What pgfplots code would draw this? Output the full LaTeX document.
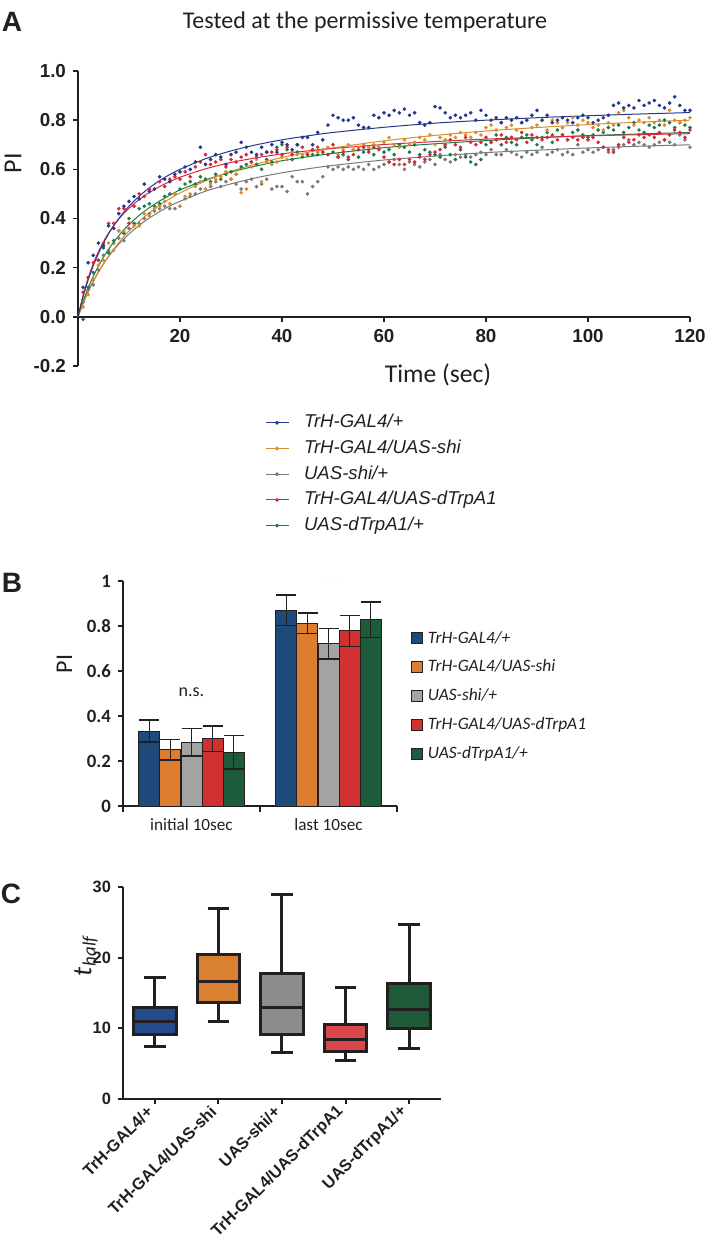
\documentclass[border=0pt]{standalone}
\usepackage{pgfplots}
\pgfplotsset{compat=1.18}
\usepackage{pgfplotstable}
\usepgfplotslibrary{statistics}
\usepackage{fontspec}
\setmainfont{Carlito}
\newfontfamily\arial{Liberation Sans}
\newfontfamily\carlito{Carlito}

\definecolor{blueA}{HTML}{233A8B}
\definecolor{orangeA}{HTML}{D98E2E}
\definecolor{grayA}{HTML}{7A7A7A}
\definecolor{redA}{HTML}{D42A3C}
\definecolor{greenA}{HTML}{1F7A48}
\definecolor{blueB}{HTML}{1F4A7C}
\definecolor{orangeB}{HTML}{DE7C30}
\definecolor{grayB}{HTML}{A3A3A3}
\definecolor{redB}{HTML}{D03232}
\definecolor{greenB}{HTML}{1D5C3A}
\definecolor{blueC}{HTML}{234B8C}
\definecolor{orangeC}{HTML}{DA8032}
\definecolor{grayC}{HTML}{8C8C8C}
\definecolor{redC}{HTML}{D9464B}
\definecolor{greenC}{HTML}{1E5A37}
\definecolor{ink}{HTML}{231F20}

\pgfplotsset{sqlegend/.style={legend image code/.code={\draw[##1] (0pt,-2.75pt) rectangle (5.5pt,2.75pt);}}}

\pgfplotstableread{
t b o g r e
1 0.12 0.04 0.06 0.10 -0.01
2 0.22 0.09 0.11 0.16 0.12
3 0.25 0.15 0.13 0.22 0.18
4 0.30 0.21 0.19 0.23 0.23
5 0.29 0.23 0.25 0.30 0.28
6 0.37 0.30 0.27 0.38 0.26
7 0.36 0.27 0.30 0.38 0.31
8 0.42 0.35 0.32 0.44 0.35
9 0.45 0.35 0.31 0.44 0.34
10 0.47 0.38 0.36 0.38 0.40
11 0.49 0.37 0.38 0.45 0.38
12 0.48 0.37 0.38 0.50 0.44
13 0.54 0.42 0.40 0.49 0.45
14 0.51 0.41 0.42 0.52 0.46
15 0.52 0.44 0.43 0.52 0.45
16 0.57 0.45 0.44 0.55 0.46
17 0.56 0.47 0.45 0.53 0.49
18 0.55 0.46 0.44 0.56 0.50
19 0.58 0.50 0.44 0.57 0.50
20 0.59 0.45 0.45 0.56 0.52
21 0.61 0.49 0.48 0.59 0.54
22 0.60 0.50 0.49 0.57 0.55
23 0.63 0.53 0.50 0.61 0.54
24 0.69 0.55 0.52 0.63 0.57
25 0.62 0.52 0.52 0.66 0.56
26 0.64 0.54 0.53 0.62 0.55
27 0.66 0.56 0.55 0.63 0.58
28 0.65 0.57 0.53 0.64 0.56
29 0.62 0.59 0.55 0.61 0.58
30 0.66 0.56 0.56 0.64 0.59
31 0.67 0.58 0.54 0.63 0.58
32 0.71 0.505 0.52 0.65 0.61
33 0.69 0.52 0.55 0.66 0.62
34 0.67 0.61 0.56 0.63 0.63
35 0.66 0.64 0.53 0.65 0.62
36 0.69 0.55 0.54 0.66 0.60
37 0.67 0.63 0.56 0.67 0.64
38 0.70 0.62 0.52 0.67 0.63
39 0.67 0.63 0.53 0.68 0.69
40 0.71 0.65 0.53 0.66 0.70
41 0.70 0.64 0.51 0.69 0.68
42 0.68 0.67 0.57 0.66 0.64
43 0.70 0.66 0.55 0.70 0.67
44 0.73 0.66 0.55 0.69 0.65
45 0.73 0.66 0.50 0.66 0.66
46 0.70 0.68 0.53 0.68 0.66
47 0.75 0.67 0.55 0.69 0.66
48 0.72 0.68 0.57 0.67 0.67
49 0.78 0.69 0.61 0.66 0.66
50 0.82 0.70 0.60 0.70 0.67
51 0.81 0.66 0.61 0.65 0.65
52 0.80 0.68 0.60 0.67 0.66
53 0.80 0.70 0.61 0.65 0.64
54 0.81 0.68 0.60 0.66 0.68
55 0.78 0.69 0.61 0.68 0.65
56 0.77 0.70 0.60 0.69 0.67
57 0.77 0.69 0.62 0.67 0.68
58 0.82 0.70 0.60 0.69 0.66
59 0.81 0.69 0.61 0.68 0.69
60 0.83 0.71 0.62 0.65 0.67
61 0.82 0.73 0.63 0.63 0.68
62 0.84 0.70 0.64 0.62 0.66
63 0.83 0.69 0.62 0.64 0.70
64 0.845 0.72 0.60 0.62 0.69
65 0.82 0.70 0.63 0.64 0.67
66 0.83 0.71 0.62 0.63 0.70
67 0.79 0.73 0.61 0.65 0.66
68 0.78 0.72 0.63 0.64 0.68
69 0.79 0.74 0.64 0.66 0.67
70 0.855 0.70 0.62 0.67 0.66
71 0.85 0.73 0.66 0.68 0.65
72 0.83 0.72 0.64 0.70 0.69
73 0.81 0.74 0.63 0.72 0.66
74 0.82 0.73 0.66 0.70 0.64
75 0.81 0.75 0.65 0.69 0.68
76 0.82 0.74 0.66 0.73 0.65
77 0.83 0.73 0.65 0.71 0.63
78 0.80 0.75 0.66 0.70 0.62
79 0.84 0.74 0.67 0.71 0.64
80 0.82 0.77 0.66 0.73 0.70
81 0.80 0.78 0.68 0.71 0.71
82 0.81 0.76 0.66 0.72 0.74
83 0.79 0.79 0.66 0.74 0.70
84 0.81 0.77 0.68 0.71 0.73
85 0.80 0.78 0.67 0.73 0.71
86 0.81 0.76 0.66 0.72 0.70
87 0.79 0.79 0.65 0.75 0.73
88 0.80 0.80 0.67 0.71 0.74
89 0.82 0.77 0.66 0.74 0.72
90 0.84 0.78 0.67 0.73 0.70
91 0.80 0.80 0.69 0.72 0.73
92 0.82 0.76 0.66 0.73 0.75
93 0.79 0.80 0.67 0.74 0.71
94 0.80 0.79 0.68 0.72 0.76
95 0.81 0.77 0.66 0.74 0.74
96 0.80 0.79 0.67 0.72 0.72
97 0.79 0.81 0.66 0.73 0.75
98 0.81 0.78 0.70 0.72 0.76
99 0.82 0.80 0.67 0.73 0.74
100 0.81 0.79 0.68 0.72 0.73
101 0.79 0.77 0.67 0.73 0.74
102 0.80 0.78 0.68 0.71 0.76
103 0.81 0.76 0.69 0.69 0.75
104 0.82 0.79 0.67 0.68 0.77
105 0.86 0.78 0.68 0.67 0.76
106 0.87 0.83 0.69 0.70 0.78
107 0.85 0.84 0.70 0.73 0.75
108 0.86 0.81 0.72 0.71 0.77
109 0.85 0.78 0.70 0.72 0.79
110 0.88 0.80 0.71 0.74 0.76
111 0.86 0.79 0.70 0.73 0.75
112 0.87 0.81 0.69 0.74 0.78
113 0.88 0.79 0.70 0.73 0.77
114 0.86 0.80 0.71 0.75 0.78
115 0.85 0.78 0.72 0.72 0.80
116 0.87 0.84 0.71 0.74 0.79
117 0.895 0.80 0.70 0.76 0.77
118 0.86 0.79 0.74 0.75 0.79
119 0.84 0.80 0.72 0.73 0.78
120 0.84 0.81 0.69 0.76 0.77
}\dataA

\begin{document}
\begin{tikzpicture}
\useasboundingbox (0,0) rectangle (354pt,-619.5pt);

% ---------- Panel labels and title ----------
\node[font=\arial\bfseries\fontsize{14}{16}\selectfont, text=ink] at (6pt,-11pt) {A};
\node[font=\arial\bfseries\fontsize{14}{16}\selectfont, text=ink] at (6pt,-291.5pt) {B};
\node[font=\arial\bfseries\fontsize{14}{16}\selectfont, text=ink] at (5.5pt,-447pt) {C};
\node[font=\carlito\fontsize{12}{14}\selectfont, text=ink, anchor=base] at (182.5pt,-14pt) {Tested at the permissive temperature};
\node[font=\carlito\fontsize{13}{15}\selectfont, text=ink, rotate=90] at (6.5pt,-81.5pt) {PI};
\node[font=\carlito\fontsize{12.8}{15}\selectfont, text=ink] at (219pt,-187.5pt) {Time (sec)};
\node[font=\carlito\fontsize{12}{14}\selectfont, text=ink, rotate=90] at (32.25pt,-332pt) {PI};
\node[font=\carlito\itshape\fontsize{13.5}{15}\selectfont, text=ink, rotate=90] at (43pt,-478pt) {t\kern0.5pt\textsubscript{half}};

% ---------- Panel A ----------
\begin{axis}[
  at={(39pt,-183pt)}, anchor=south west, scale only axis,
  width=306pt, height=147.5pt,
  xmin=0, xmax=120, ymin=-0.2, ymax=1.0,
  axis x line=middle, axis y line=left,
  axis line style={-, line width=0.75pt, ink},
  every inner x axis line/.append style={-},
  xtick={20,40,60,80,100,120},
  ytick={-0.2,0,0.2,0.4,0.6,0.8,1.0},
  yticklabels={-0.2,0.0,0.2,0.4,0.6,0.8,1.0},
  tick align=outside, major tick length=2.5pt,
  tick style={line width=0.75pt, ink},
  tick label style={font=\arial\bfseries\fontsize{9.4}{11}\selectfont, text=ink},
  /pgf/number format/assume math mode=true,
  legend image code/.code={\draw[mark repeat=2,mark phase=2,#1] plot coordinates {(0pt,0pt) (5.75pt,0pt) (11.5pt,0pt)};},
  legend style={at={(axis description cs:0.3056,-0.162)}, anchor=north west,
    draw=none, fill=none, inner sep=0pt, outer sep=0pt,
    font=\arial\itshape\fontsize{9.3}{11}\selectfont, text=ink,
    row sep=3.85pt,
    nodes={inner sep=0pt, text height=7pt, text depth=2pt},
    /tikz/every odd column/.append style={column sep=7.5pt}},
  legend cell align=left,
]
\addlegendimage{blueA, line width=0.5pt, mark=*, mark size=0.7pt}
\addlegendentry{TrH-GAL4/+}
\addlegendimage{orangeA, line width=0.5pt, mark=*, mark size=0.7pt}
\addlegendentry{TrH-GAL4/UAS-shi}
\addlegendimage{grayA, line width=0.5pt, mark=*, mark size=0.7pt}
\addlegendentry{UAS-shi/+}
\addlegendimage{redA, line width=0.5pt, mark=*, mark size=0.7pt}
\addlegendentry{TrH-GAL4/UAS-dTrpA1}
\addlegendimage{greenA, line width=0.5pt, mark=*, mark size=0.7pt}
\addlegendentry{UAS-dTrpA1/+}

\addplot[forget plot, only marks, mark=*, mark size=0.7pt, grayA] table[x=t, y=g] {\dataA};
\addplot[forget plot, only marks, mark=*, mark size=0.7pt, greenA] table[x=t, y=e] {\dataA};
\addplot[forget plot, only marks, mark=*, mark size=0.7pt, orangeA] table[x=t, y=o] {\dataA};
\addplot[forget plot, only marks, mark=*, mark size=0.7pt, redA] table[x=t, y=r] {\dataA};
\addplot[forget plot, only marks, mark=*, mark size=0.7pt, blueA] table[x=t, y=b] {\dataA};

\addplot[forget plot, smooth, grayA, line width=0.5pt] coordinates {(0,0) (1,.055) (2,.103) (3,.146) (4,.183) (5,.216) (6,.245) (7,.272) (8,.296) (9,.317) (10,.337) (12,.372) (14,.402) (16,.428) (18,.451) (20,.47) (25,.511) (30,.541) (35,.566) (40,.586) (45,.602) (50,.616) (60,.638) (70,.654) (80,.668) (90,.678) (100,.687) (110,.694) (120,.70)};
\addplot[forget plot, smooth, greenA, line width=0.5pt] coordinates {(0,0) (1,.063) (2,.118) (3,.165) (4,.206) (5,.243) (6,.275) (7,.304) (8,.33) (9,.354) (10,.375) (12,.413) (14,.444) (16,.471) (18,.495) (20,.516) (25,.557) (30,.589) (35,.614) (40,.635) (45,.651) (50,.665) (60,.688) (70,.704) (80,.717) (90,.728) (100,.737) (110,.744) (120,.75)};
\addplot[forget plot, smooth, orangeA, line width=0.5pt] coordinates {(0,0) (1,.053) (2,.101) (3,.143) (4,.181) (5,.216) (6,.247) (7,.276) (8,.302) (9,.327) (10,.349) (12,.389) (14,.423) (16,.454) (18,.48) (20,.504) (25,.553) (30,.592) (35,.622) (40,.648) (45,.669) (50,.687) (60,.716) (70,.738) (80,.756) (90,.77) (100,.782) (110,.792) (120,.80)};
\addplot[forget plot, smooth, redA, line width=0.5pt] coordinates {(0,0) (1,.088) (2,.159) (3,.217) (4,.265) (5,.306) (6,.341) (7,.371) (8,.398) (9,.421) (10,.442) (12,.477) (14,.506) (16,.53) (18,.55) (20,.568) (25,.602) (30,.628) (35,.647) (40,.663) (45,.675) (50,.685) (60,.701) (70,.713) (80,.723) (90,.73) (100,.736) (110,.741) (120,.745)};
\addplot[forget plot, smooth, blueA, line width=0.5pt] coordinates {(0,0) (1,.082) (2,.15) (3,.208) (4,.257) (5,.30) (6,.338) (7,.371) (8,.40) (9,.426) (10,.45) (12,.491) (14,.525) (16,.554) (18,.579) (20,.60) (25,.643) (30,.675) (35,.70) (40,.72) (45,.736) (50,.75) (60,.771) (70,.788) (80,.80) (90,.81) (100,.818) (110,.825) (120,.831)};
\end{axis}

% ---------- Panel B ----------
\begin{axis}[
  at={(61.5pt,-403pt)}, anchor=south west, scale only axis,
  width=137pt, height=112.5pt,
  xmin=-0.5, xmax=1.5, ymin=0, ymax=1,
  axis lines=left, axis line style={-, line width=1pt, ink},
  xtick={0,1}, xticklabels={initial 10sec, last 10sec},
  minor xtick={-0.5,0.5,1.5},
  major x tick style={draw=none},
  ytick={0,0.2,0.4,0.6,0.8,1}, yticklabels={0,0.2,0.4,0.6,0.8,1},
  tick align=outside, major tick length=2.5pt, minor tick length=3pt,
  tick style={line width=1pt, ink},
  yticklabel style={font=\carlito\bfseries\fontsize{9.4}{11}\selectfont, text=ink},
  xticklabel style={font=\carlito\fontsize{8.6}{10}\selectfont, text=ink},
  /pgf/number format/assume math mode=true,
  legend style={at={(axis description cs:1.051,0.782)}, anchor=north west,
    draw=none, fill=none, inner sep=0pt, outer sep=0pt,
    font=\carlito\itshape\fontsize{8.7}{10}\selectfont, text=ink,
    row sep=6.1pt,
    nodes={inner sep=0pt, text height=6.5pt, text depth=1.8pt},
    /tikz/every odd column/.append style={column sep=2.5pt}},
  legend cell align=left,
]
\addlegendimage{fill=blueB, draw=ink, line width=0.5pt, sqlegend}
\addlegendentry{TrH-GAL4/+}
\addlegendimage{fill=orangeB, draw=ink, line width=0.5pt, sqlegend}
\addlegendentry{TrH-GAL4/UAS-shi}
\addlegendimage{fill=grayB, draw=ink, line width=0.5pt, sqlegend}
\addlegendentry{UAS-shi/+}
\addlegendimage{fill=redB, draw=ink, line width=0.5pt, sqlegend}
\addlegendentry{TrH-GAL4/UAS-dTrpA1}
\addlegendimage{fill=greenB, draw=ink, line width=0.5pt, sqlegend}
\addlegendentry{UAS-dTrpA1/+}

% bars placed at group centre +/- k*0.1533 (one bar width in axis units)
\pgfplotsset{barerr/.style={forget plot, ybar, bar width=10.5pt, bar shift=0pt, draw=ink, line width=0.5pt,
   error bars/.cd, y dir=both, y explicit,
   error bar style={line width=0.7pt, ink},
   error mark options={rotate=90, mark size=5pt, line width=0.7pt, ink}}}
\addplot[fill=blueB, barerr] coordinates {(-0.3066,0.333) +- (0,0.049) (0.6934,0.870) +- (0,0.067)};
\addplot[fill=orangeB, barerr] coordinates {(-0.1533,0.250) +- (0,0.045) (0.8467,0.812) +- (0,0.046)};
\addplot[fill=grayB, barerr] coordinates {(0,0.284) +- (0,0.061) (1,0.721) +- (0,0.067)};
\addplot[fill=redB, barerr] coordinates {(0.1533,0.299) +- (0,0.056) (1.1533,0.778) +- (0,0.068)};
\addplot[fill=greenB, barerr] coordinates {(0.3066,0.239) +- (0,0.074) (1.3066,0.828) +- (0,0.078)};
\node[font=\carlito\fontsize{9}{11}\selectfont, text=ink] at (axis cs:0,0.507) {n.s.};
\node[font=\carlito\fontsize{9}{11}\selectfont, text=ink] at (axis cs:1,1.018) {n.s.};
\end{axis}

% ---------- Panel C ----------
\begin{axis}[
  at={(61.5pt,-549.5pt)}, anchor=south west, scale only axis,
  width=159pt, height=106pt,
  xmin=-0.5, xmax=4.5, ymin=0, ymax=30,
  axis lines=left, axis line style={-, line width=1pt, ink},
  xtick={0,1,2,3,4},
  xticklabels={TrH-GAL4/+, TrH-GAL4/UAS-shi, UAS-shi/+, TrH-GAL4/UAS-dTrpA1, UAS-dTrpA1/+},
  ytick={0,10,20,30},
  tick align=outside, major tick length=2.5pt,
  tick style={line width=1pt, ink},
  tick label style={font=\arial\bfseries\fontsize{8.2}{10}\selectfont, text=ink},
  xticklabel style={rotate=45, anchor=east},
  /pgf/number format/assume math mode=true,
  boxplot/draw direction=y,
]
\addplot[boxplot prepared={draw position=0, lower whisker=7.4, lower quartile=9.15, median=10.94, upper quartile=13.0, upper whisker=17.26, box extend=0.67, whisker extend=0.34}, fill=blueC, draw=ink, line width=1.5pt] coordinates {};
\addplot[boxplot prepared={draw position=1, lower whisker=10.9, lower quartile=13.7, median=16.7, upper quartile=20.4, upper whisker=26.9, box extend=0.67, whisker extend=0.34}, fill=orangeC, draw=ink, line width=1.5pt] coordinates {};
\addplot[boxplot prepared={draw position=2, lower whisker=6.6, lower quartile=9.15, median=13.0, upper quartile=17.7, upper whisker=28.9, box extend=0.67, whisker extend=0.34}, fill=grayC, draw=ink, line width=1.5pt] coordinates {};
\addplot[boxplot prepared={draw position=3, lower whisker=5.4, lower quartile=6.75, median=8.4, upper quartile=10.5, upper whisker=15.75, box extend=0.67, whisker extend=0.34}, fill=redC, draw=ink, line width=1.5pt] coordinates {};
\addplot[boxplot prepared={draw position=4, lower whisker=7.1, lower quartile=10.0, median=12.7, upper quartile=16.3, upper whisker=24.7, box extend=0.67, whisker extend=0.34}, fill=greenC, draw=ink, line width=1.5pt] coordinates {};
\end{axis}
\end{tikzpicture}
\end{document}
